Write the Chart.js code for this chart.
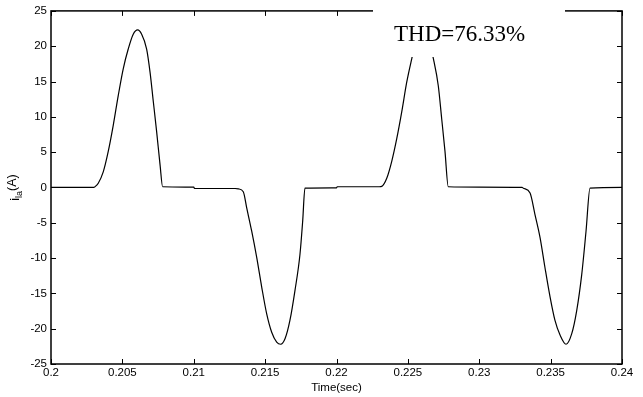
<!DOCTYPE html>
<html>
<head>
<meta charset="utf-8">
<script src="https://cdn.jsdelivr.net/npm/chart.js@4/dist/chart.umd.min.js"></script>
<style>
  html, body { margin: 0; padding: 0; background: #fff; }
  #wrap { width: 643px; height: 397px; position: relative; }
</style>
</head>
<body>
<div id="wrap"><canvas id="chart"></canvas></div>
<script>
// values
const timeSec = [
  0.2000, 0.2030, 0.20308, 0.20331, 0.20366, 0.20401, 0.20436, 0.20471, 0.20506, 0.20541,
  0.20576, 0.20607, 0.20635, 0.20670, 0.20694, 0.20717, 0.20740, 0.20764, 0.20782,
  0.21000, 0.21005, 0.21290,
  0.21312, 0.21347, 0.21371, 0.21406, 0.21441, 0.21476, 0.21511, 0.21546, 0.21581,
  0.21609, 0.21640, 0.21674, 0.21709, 0.21744, 0.21763, 0.21779,
  0.22000, 0.22005, 0.22300,
  0.22317, 0.22352, 0.22387, 0.22422, 0.22457, 0.22492, 0.22527, 0.22562, 0.22605,
  0.22640, 0.22679, 0.22713, 0.22737, 0.22760, 0.22783,
  0.23000, 0.23300,
  0.23309, 0.23356, 0.23390, 0.23426, 0.23460, 0.23496, 0.23530, 0.23566, 0.23608,
  0.23648, 0.23683, 0.23718, 0.23748, 0.23776,
  0.24000
];
const currentA = [
  0, 0, 0.1, 0.6, 2.2, 5.1, 8.8, 13.0, 16.8, 19.6,
  21.7, 22.3, 21.7, 19.6, 16.3, 12.1, 7.9, 3.2, 0.1,
  0.05, -0.15, -0.15,
  -0.2, -0.6, -2.9, -6.2, -9.9, -14.1, -17.9, -20.5, -21.9,
  -22.2, -21.4, -18.8, -14.6, -9.5, -4.8, -0.1,
  -0.05, 0.1, 0.1,
  0.15, 1.3, 3.7, 6.9, 10.7, 14.9, 18.2, 21.2, 22.3,
  21.4, 18.2, 14.4, 9.7, 5.1, 0.1,
  0.05, 0,
  -0.1, -0.8, -3.8, -7.1, -11.3, -15.5, -18.8, -20.9, -22.2,
  -20.7, -17.4, -12.3, -6.2, -0.1,
  0
];
const xTickValues = [0.2, 0.205, 0.21, 0.215, 0.22, 0.225, 0.23, 0.235, 0.24];
const xTickLabels = ['0.2', '0.205', '0.21', '0.215', '0.22', '0.225', '0.23', '0.235', '0.24'];
const yTickValues = [-25, -20, -15, -10, -5, 0, 5, 10, 15, 20, 25];
const yTickLabels = ['-25', '-20', '-15', '-10', '-5', '0', '5', '10', '15', '20', '25'];
const xTitle = 'Time(sec)';
const thdText = 'THD=76.33%';

const tickFont = { family: 'Liberation Sans, Arial, sans-serif', size: 11.5 };

// box, inward ticks on all four sides, axis titles and THD note
const matlabFrame = {
  id: 'matlabFrame',
  afterDraw(chart) {
    const ctx = chart.ctx;
    const a = chart.chartArea;
    const xs = chart.scales.x, ys = chart.scales.y;
    ctx.save();
    ctx.strokeStyle = '#000';
    ctx.lineWidth = 1.5;
    ctx.strokeRect(a.left, a.top, a.right - a.left, a.bottom - a.top);
    ctx.lineWidth = 1;
    ctx.beginPath();
    xTickValues.forEach(v => {
      const px = Math.round(xs.getPixelForValue(v)) + 0.5;
      ctx.moveTo(px, a.bottom); ctx.lineTo(px, a.bottom - 5);
      ctx.moveTo(px, a.top); ctx.lineTo(px, a.top + 5);
    });
    yTickValues.forEach(v => {
      const py = Math.round(ys.getPixelForValue(v)) + 0.5;
      ctx.moveTo(a.left, py); ctx.lineTo(a.left + 5, py);
      ctx.moveTo(a.right, py); ctx.lineTo(a.right - 5, py);
    });
    ctx.stroke();

    // x title
    ctx.fillStyle = '#000';
    ctx.font = '11.5px Liberation Sans, Arial, sans-serif';
    ctx.textAlign = 'center';
    ctx.textBaseline = 'middle';
    ctx.fillText(xTitle, (a.left + a.right) / 2, 388);

    // y title: i with subscript la, then (A)
    ctx.save();
    ctx.translate(15, ys.getPixelForValue(0));
    ctx.rotate(-Math.PI / 2);
    ctx.textAlign = 'left';
    ctx.textBaseline = 'alphabetic';
    ctx.font = '12.5px Liberation Sans, Arial, sans-serif';
    const w1 = ctx.measureText('i').width;
    ctx.font = '9px Liberation Sans, Arial, sans-serif';
    const w2 = ctx.measureText('la').width;
    ctx.font = '12.5px Liberation Sans, Arial, sans-serif';
    const w3 = ctx.measureText('(A)').width;
    const x0 = -(w1 + w2 + w3) / 2;
    ctx.fillText('i', x0, 4);
    ctx.font = '9px Liberation Sans, Arial, sans-serif';
    ctx.fillText('la', x0 + w1, 7);
    ctx.font = '12.5px Liberation Sans, Arial, sans-serif';
    ctx.fillText('(A)', x0 + w1 + w2, 1);
    ctx.restore();

    // THD note on a white box that hides the top of the frame
    ctx.fillStyle = '#fff';
    ctx.fillRect(373, 0, 192, 57);
    ctx.fillStyle = '#000';
    ctx.font = '23px Liberation Serif, Times New Roman, serif';
    ctx.textAlign = 'left';
    ctx.textBaseline = 'alphabetic';
    ctx.fillText(thdText, 394, 41);
    ctx.restore();
  }
};

new Chart(document.getElementById('chart'), {
  type: 'line',
  data: {
    datasets: [{
      data: timeSec.map((t, i) => ({ x: t, y: currentA[i] })),
      borderColor: '#000',
      borderWidth: 1.2,
      pointRadius: 0,
      cubicInterpolationMode: 'monotone',
      fill: false
    }]
  },
  options: {
    responsive: true,
    maintainAspectRatio: false,
    animation: false,
    layout: { padding: { top: 8, right: 21, left: 0, bottom: 0 } },
    plugins: { legend: { display: false }, tooltip: { enabled: false } },
    scales: {
      x: {
        type: 'linear',
        min: 0.2,
        max: 0.24,
        afterBuildTicks: s => { s.ticks = xTickValues.map(v => ({ value: v })); },
        afterFit: s => { s.height = 33; },
        grid: { display: false, drawTicks: false, tickLength: 0 },
        border: { display: false },
        ticks: {
          color: '#000',
          font: tickFont,
          padding: 2,
          maxRotation: 0,
          autoSkip: false,
          callback: (v, i) => xTickLabels[i]
        }
      },
      y: {
        min: -25,
        max: 25,
        afterBuildTicks: s => { s.ticks = yTickValues.map(v => ({ value: v })); },
        afterFit: s => { s.width = 51; },
        grid: { display: false, drawTicks: false, tickLength: 0 },
        border: { display: false },
        ticks: {
          color: '#000',
          font: tickFont,
          padding: 4,
          autoSkip: false,
          callback: (v, i) => yTickLabels[i]
        }
      }
    }
  },
  plugins: [matlabFrame]
});
</script>
</body>
</html>
